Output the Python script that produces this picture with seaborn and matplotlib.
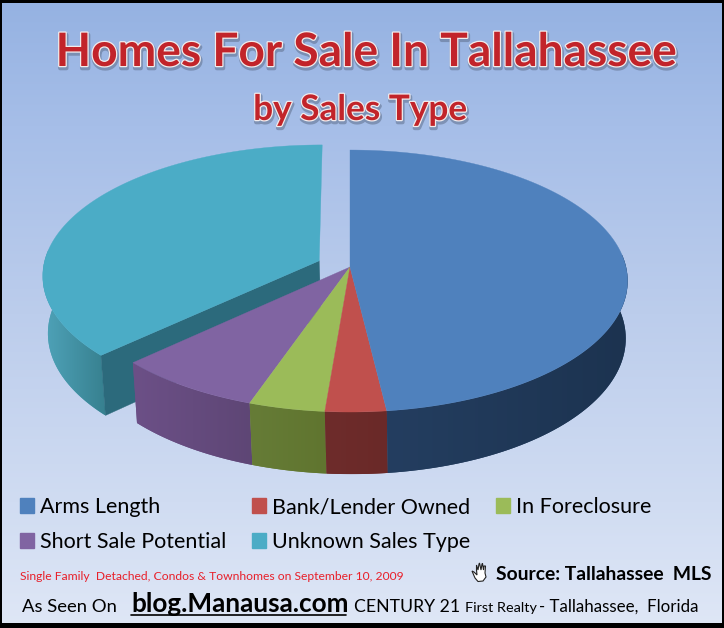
import numpy as np
import matplotlib
matplotlib.use('Agg')
import matplotlib.pyplot as plt
import matplotlib.patheffects as pe
from matplotlib.patches import Patch
from matplotlib.colors import to_rgb
import seaborn as sns

categories = ['Arms Length', 'Bank/Lender Owned', 'In Foreclosure', 'Short Sale Potential', 'Unknown Sales Type']
shares = [48.1, 3.2, 4.0, 7.7, 37.0]
top_hex = ['#4F81BD', '#C0504D', '#9BBB59', '#8064A2', '#4BACC6']
wall_left = ['#243E60', '#6E2C2B', '#667C37', '#6C5087', '#4FA3B9']
wall_right = ['#1C3350', '#6A2928', '#60752F', '#5E4675', '#37808F']
inner_wall = '#2C6A7C'

sns.set_theme(style='white')
top_colors = sns.color_palette(top_hex)

# pie geometry in pixels, k is the perspective
cx, cy, a, b, k = 350, 267, 276, 129.5, 0.107
depth, shrink = 57, 0.988
explode = {4: 0.122}


def project(u, v, low=False):
    s = 1 / (1 - k * v)
    if low:
        return cx + 1.5 + a * shrink * u * s, cy + (b * shrink * v + depth) * s
    return cx + a * u * s, cy + b * v * s


fig = plt.figure(figsize=(7.24, 6.28), dpi=100)
ax = fig.add_axes([0, 0, 1, 1])

# background gradient
stops_y = [0, 0.2, 0.5, 0.8, 1]
stops_c = [to_rgb(c) for c in ['#95B2E2', '#A6BEE8', '#BCCDEC', '#D0DCF2', '#DFE7F6']]
grad = np.array([np.interp(np.linspace(0, 1, 300), stops_y, ch) for ch in zip(*stops_c)]).T[:, None, :]
ax.imshow(grad, extent=[0, 724, 628, 0], aspect='auto', zorder=0)

edges = np.radians(np.cumsum([0] + shares) * 3.6)
z = 2
for i in [4, 3, 2, 1, 0]:
    t = np.linspace(edges[i], edges[i + 1], 120)
    phi = (edges[i] + edges[i + 1]) / 2
    e = explode.get(i, 0)
    du, dv = e * np.sin(phi), -e * np.cos(phi)
    u, v = np.sin(t) + du, -np.cos(t) + dv

    # outer wall with a left to right shade, back side is never seen
    front = -np.cos(t) > -0.1
    x1, y1 = project(u[front], v[front])
    x2, y2 = project(u[front], v[front], low=True)
    wx, wy = np.r_[x1, x2[::-1]], np.r_[y1, y2[::-1]]
    wall = ax.fill(wx, wy, color=wall_left[i], lw=0, zorder=z)[0]
    shade = np.linspace(to_rgb(wall_left[i]), to_rgb(wall_right[i]), 100)[None, :, :]
    im = ax.imshow(shade, extent=[wx.min(), wx.max(), wy.max(), wy.min()], aspect='auto', zorder=z)
    im.set_clip_path(wall)

    if i == 4:
        # cut face of the pulled out slice
        x1, y1 = project(np.array([du, u[0]]), np.array([dv, v[0]]))
        x2, y2 = project(np.array([du, u[0]]), np.array([dv, v[0]]), low=True)
        ax.fill(np.r_[x1, x2[::-1]], np.r_[y1, y2[::-1]], color=inner_wall, lw=0.25, zorder=z)
        tx, ty = project(np.r_[du, u], np.r_[dv, v])
        ax.fill(tx, ty, color=top_colors[i], lw=0.25, zorder=z + 1)
        z += 2

# top faces of the main pie go over all its walls
for i in [3, 2, 1, 0]:
    t = np.linspace(edges[i], edges[i + 1], 120)
    tx, ty = project(np.r_[0, np.sin(t)], np.r_[0, -np.cos(t)])
    ax.fill(tx, ty, color=top_colors[i], lw=0.25, zorder=z + 1)

# title
title_fx = [
    pe.SimpleLineShadow(offset=(0.6, -1.6), shadow_color='#5F6F8C', alpha=0.55, linewidth=3),
    pe.Stroke(linewidth=1.8, foreground='#F2ECEC'),
    pe.Normal(),
]
ax.text(367, 53, 'Homes For Sale In Tallahassee', family='Lato', weight='bold', fontsize=33.2,
        color='#C2242A', ha='center', va='center', path_effects=title_fx, zorder=10)
ax.text(360, 110, 'by Sales Type', family='Lato', weight='bold', fontsize=25.3,
        color='#C2242A', ha='center', va='center', path_effects=title_fx, zorder=10)

# legend
leg_order = [0, 3, 1, 4, 2]
handles = [Patch(color=top_colors[i], label=categories[i]) for i in leg_order]
ax.legend(handles=handles, ncol=3, loc='upper left', bbox_to_anchor=(20, 497), bbox_transform=ax.transData,
          frameon=False, prop={'family': 'Lato', 'size': 15.5}, handlelength=0.65, handleheight=0.65,
          handletextpad=0.28, columnspacing=1.2, labelspacing=0.7, borderpad=0, borderaxespad=0,
          labelcolor='black')

# footer
ax.text(20, 577, 'Single Family  Detached, Condos & Townhomes on September 10, 2009', family='Lato',
        fontsize=8.74, color='#E8202A', va='center', zorder=10)
# hand icon, no installed font has this glyph
hand_x = [472, 474, 477, 476.5, 476.5, 478, 479, 479.5, 481, 482, 482.5, 483.5, 484, 485.5, 485, 486, 483, 478, 475, 472]
hand_y = [571, 572, 575, 570, 565, 570, 564, 563, 570, 564, 563.5, 570, 566, 566, 573, 577, 581, 581.5, 578, 571]
ax.fill(hand_x, hand_y, facecolor='white', edgecolor='#222222', lw=0.8, zorder=10)
ax.text(496, 574, 'Source: Tallahassee  MLS', family='Lato', weight='bold', fontsize=13.9, color='black',
        va='center', zorder=10)
ax.text(22, 607, 'As Seen On', family='Lato', fontsize=13.3, color='black', va='center', zorder=10)
ax.text(131, 604, 'blog.Manausa.com', family='Lato', weight='bold', fontsize=18.8, color='black',
        va='center', zorder=10)
ax.plot([131, 346], [614.5, 614.5], color='black', lw=1.2, zorder=10)
ax.text(354, 607, 'CENTURY 21', family='Lato', fontsize=12.7, color='black', va='center', zorder=10)
ax.text(465, 608, 'First Realty', family='Lato', fontsize=10.4, color='black', va='center', zorder=10)
ax.text(539, 607, '- Tallahassee,  Florida', family='Lato', fontsize=12.2, color='black', va='center', zorder=10)

ax.set_xlim(0, 724)
ax.set_ylim(628, 0)
ax.set(xticks=[], yticks=[])
# spines sit half outside the figure, so twice the wanted width
for name, px in {'top': 3, 'bottom': 5, 'left': 2, 'right': 2}.items():
    ax.spines[name].set_visible(True)
    ax.spines[name].set_color('black')
    ax.spines[name].set_linewidth(px * 2 * 0.72)

fig.savefig('out.png', dpi=100)
